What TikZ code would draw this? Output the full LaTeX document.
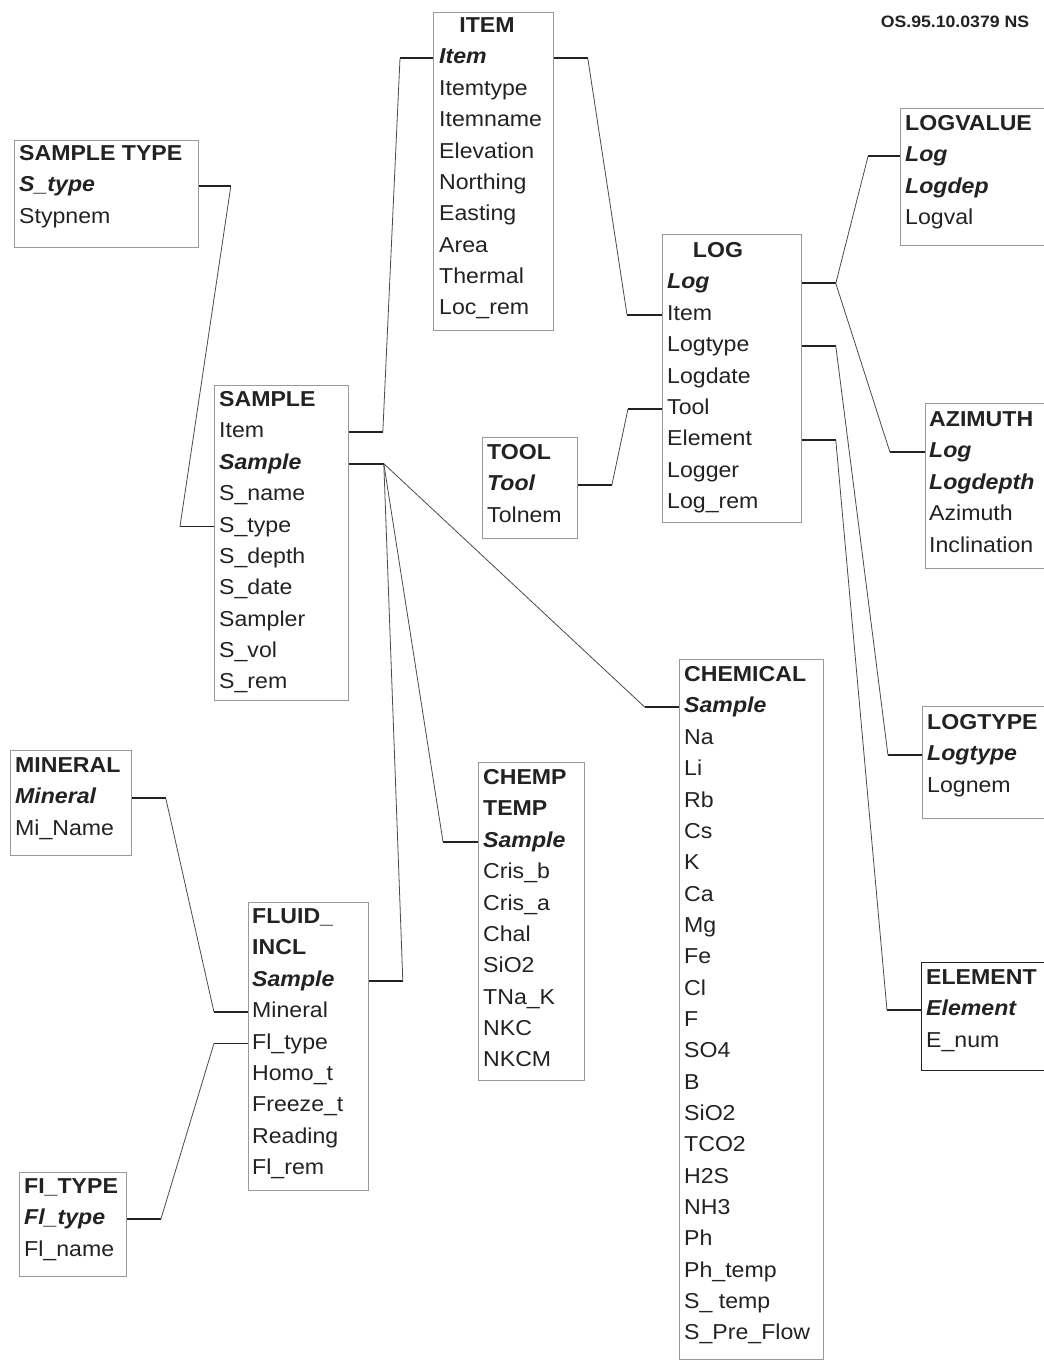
\documentclass[tikz,border=0pt]{standalone}
\usepackage{fontspec}
\setmainfont{Liberation Sans}[FakeStretch=1.07]
\definecolor{ink}{HTML}{222222}
\definecolor{boxgray}{HTML}{9A9A9A}
\definecolor{wiregray}{HTML}{4A4A4A}
\newcommand\fieldsize{\fontsize{21.6}{26}\selectfont}
\tikzset{
  tbl/.style={draw=boxgray, line width=0.8pt, anchor=north west, inner sep=0pt},
  fld/.style={anchor=west, inner sep=0pt, text=ink, text height=15.5pt, text depth=4.3pt, font=\fieldsize},
  hdr/.style={fld, font=\fieldsize\bfseries},
  pkey/.style={fld, font=\fieldsize\bfseries\itshape},
  stub/.style={draw=ink, line width=1.8pt},
  wire/.style={draw=wiregray, line width=0.8pt},
}
\begin{document}
\begin{tikzpicture}[x=1pt, y=-1pt]
  \clip (0,0) rectangle (1044,1361);
  % Reference number
  \node[font=\fontsize{16.5}{20}\selectfont\bfseries, text=ink] (docref) at (955,22) {OS.95.10.0379 NS};
  % SAMPLE TYPE
  \node[tbl, minimum width=184, minimum height=107] (stype) at (14,140) {};
  \foreach \s/\f [count=\i from 0] in {hdr/SAMPLE TYPE, pkey/S\_type, fld/Stypnem}
    \node[\s] (stype-\i) at (19,{155+31.35*\i}) {\f};
  % ITEM
  \node[tbl, minimum width=120, minimum height=318] (item) at (433,12) {};
  \node[hdr, anchor=center] (item-0) at (487,27) {ITEM};
  \foreach \s/\f [count=\i from 1] in {pkey/Item, fld/Itemtype, fld/Itemname, fld/Elevation, fld/Northing, fld/Easting, fld/Area, fld/Thermal, fld/Loc\_rem}
    \node[\s] (item-\i) at (439,{27+31.35*\i}) {\f};
  % SAMPLE
  \node[tbl, minimum width=134, minimum height=315] (sample) at (214,385) {};
  \foreach \s/\f [count=\i from 0] in {hdr/SAMPLE, fld/Item, pkey/Sample, fld/S\_name, fld/S\_type, fld/S\_depth, fld/S\_date, fld/Sampler, fld/S\_vol, fld/S\_rem}
    \node[\s] (sample-\i) at (219,{401+31.35*\i}) {\f};
  % LOG
  \node[tbl, minimum width=139, minimum height=288] (log) at (662,234) {};
  \node[hdr, anchor=center] (log-0) at (718,252) {LOG};
  \foreach \s/\f [count=\i from 1] in {pkey/Log, fld/Item, fld/Logtype, fld/Logdate, fld/Tool, fld/Element, fld/Logger, fld/Log\_rem}
    \node[\s] (log-\i) at (667,{252+31.35*\i}) {\f};
  % TOOL
  \node[tbl, minimum width=95, minimum height=101] (tool) at (482,437) {};
  \foreach \s/\f [count=\i from 0] in {hdr/TOOL, pkey/Tool, fld/Tolnem}
    \node[\s] (tool-\i) at (487,{454+31.35*\i}) {\f};
  % LOGVALUE
  \node[tbl, minimum width=160, minimum height=137] (logval) at (900,108) {};
  \foreach \s/\f [count=\i from 0] in {hdr/LOGVALUE, pkey/Log, pkey/Logdep, fld/Logval}
    \node[\s] (logval-\i) at (905,{125+31.35*\i}) {\f};
  % AZIMUTH
  \node[tbl, minimum width=140, minimum height=165] (azim) at (925,403) {};
  \foreach \s/\f [count=\i from 0] in {hdr/AZIMUTH, pkey/Log, pkey/Logdepth, fld/Azimuth, fld/Inclination}
    \node[\s] (azim-\i) at (929,{421+31.35*\i}) {\f};
  % LOGTYPE
  \node[tbl, minimum width=140, minimum height=112] (logtype) at (922,706) {};
  \foreach \s/\f [count=\i from 0] in {hdr/LOGTYPE, pkey/Logtype, fld/Lognem}
    \node[\s] (logtype-\i) at (927,{724+31.35*\i}) {\f};
  % ELEMENT
  \node[tbl, draw=ink, line width=1.4pt, minimum width=140, minimum height=108] (elem) at (921,962) {};
  \foreach \s/\f [count=\i from 0] in {hdr/ELEMENT, pkey/Element, fld/E\_num}
    \node[\s] (elem-\i) at (926,{979+31.35*\i}) {\f};
  % CHEMICAL
  \node[tbl, minimum width=144, minimum height=700] (chem) at (679,659) {};
  \foreach \s/\f [count=\i from 0] in {hdr/CHEMICAL, pkey/Sample, fld/Na, fld/Li, fld/Rb, fld/Cs, fld/K, fld/Ca, fld/Mg, fld/Fe, fld/Cl, fld/F, fld/SO4, fld/B, fld/SiO2, fld/TCO2, fld/H2S, fld/NH3, fld/Ph, fld/Ph\_temp, fld/S\_ temp, fld/S\_Pre\_Flow}
    \node[\s] (chem-\i) at (684,{676+31.35*\i}) {\f};
  % CHEMP TEMP
  \node[tbl, minimum width=106, minimum height=318] (chemp) at (478,762) {};
  \foreach \s/\f [count=\i from 0] in {hdr/CHEMP, hdr/TEMP, pkey/Sample, fld/Cris\_b, fld/Cris\_a, fld/Chal, fld/SiO2, fld/TNa\_K, fld/NKC, fld/NKCM}
    \node[\s] (chemp-\i) at (483,{779+31.35*\i}) {\f};
  % MINERAL
  \node[tbl, minimum width=121, minimum height=105] (mineral) at (10,750) {};
  \foreach \s/\f [count=\i from 0] in {hdr/MINERAL, pkey/Mineral, fld/Mi\_Name}
    \node[\s] (mineral-\i) at (15,{767+31.35*\i}) {\f};
  % FLUID_INCL
  \node[tbl, minimum width=120, minimum height=288] (fluid) at (248,902) {};
  \foreach \s/\f [count=\i from 0] in {hdr/FLUID\_, hdr/INCL, pkey/Sample, fld/Mineral, fld/Fl\_type, fld/Homo\_t, fld/Freeze\_t, fld/Reading, fld/Fl\_rem}
    \node[\s] (fluid-\i) at (252,{918+31.35*\i}) {\f};
  % FI_TYPE
  \node[tbl, minimum width=107, minimum height=104] (fltype) at (19,1172) {};
  \foreach \s/\f [count=\i from 0] in {hdr/FI\_TYPE, pkey/Fl\_type, fld/Fl\_name}
    \node[\s] (fltype-\i) at (24,{1188+31.35*\i}) {\f};

  % SAMPLE TYPE -> SAMPLE
  \draw[stub] (stype.east |- stype-1) -- ++(32,0) coordinate (stype-out);
  \draw[stub] (sample.west |- sample-4) -- ++(-34,0) coordinate (sample-stype-in);
  \draw[wire] (stype-out) -- (sample-stype-in);
  % SAMPLE -> ITEM
  \draw[stub] (sample.east |- sample-1) -- ++(34,0) coordinate (sample-item-out);
  \draw[stub] (item.west |- item-1) -- ++(-33,0) coordinate (item-in);
  \draw[wire] (sample-item-out) -- (item-in);
  % ITEM -> LOG
  \draw[stub] (item.east |- item-1) -- ++(34,0) coordinate (item-out);
  \draw[stub] (log.west |- log-2) -- ++(-35,0) coordinate (log-item-in);
  \draw[wire] (item-out) -- (log-item-in);
  % SAMPLE -> CHEMICAL, CHEMP TEMP, FLUID_INCL
  \draw[stub] (sample.east |- sample-2) -- ++(35,0) coordinate (sample-out);
  \draw[stub] (chem.west |- chem-1) -- ++(-34,0) coordinate (chem-in);
  \draw[stub] (chemp.west |- chemp-2) -- ++(-35,0) coordinate (chemp-in);
  \draw[stub] (fluid.east |- fluid-2) -- ++(34,0) coordinate (fluid-in);
  \draw[wire] (sample-out) -- (chem-in);
  \draw[wire] (sample-out) -- (chemp-in);
  \draw[wire] (sample-out) -- (fluid-in);
  % MINERAL -> FLUID_INCL
  \draw[stub] (mineral.east |- mineral-1) -- ++(34,0) coordinate (mineral-out);
  \draw[stub] (fluid.west |- fluid-3) -- ++(-34,0) coordinate (fluid-min-in);
  \draw[wire] (mineral-out) -- (fluid-min-in);
  % FI_TYPE -> FLUID_INCL
  \draw[stub] (fltype.east |- fltype-1) -- ++(34,0) coordinate (fltype-out);
  \draw[stub] (fluid.west |- fluid-4) -- ++(-34,0) coordinate (fluid-fl-in);
  \draw[wire] (fltype-out) -- (fluid-fl-in);
  % TOOL -> LOG
  \draw[stub] (tool.east |- tool-1) -- ++(34,0) coordinate (tool-out);
  \draw[stub] (log.west |- log-5) -- ++(-34,0) coordinate (log-tool-in);
  \draw[wire] (tool-out) -- (log-tool-in);
  % LOG -> LOGVALUE, AZIMUTH
  \draw[stub] (log.east |- log-1) -- ++(34,0) coordinate (log-out);
  \draw[stub] (logval.west |- logval-1) -- ++(-32,0) coordinate (logval-in);
  \draw[stub] (azim.west |- azim-1) -- ++(-35,0) coordinate (azim-in);
  \draw[wire] (log-out) -- (logval-in);
  \draw[wire] (log-out) -- (azim-in);
  % LOG -> LOGTYPE
  \draw[stub] (log.east |- log-3) -- ++(34,0) coordinate (log-type-out);
  \draw[stub] (logtype.west |- logtype-1) -- ++(-34,0) coordinate (logtype-in);
  \draw[wire] (log-type-out) -- (logtype-in);
  % LOG -> ELEMENT
  \draw[stub] (log.east |- log-6) -- ++(34,0) coordinate (log-elem-out);
  \draw[stub] (elem.west |- elem-1) -- ++(-34,0) coordinate (elem-in);
  \draw[wire] (log-elem-out) -- (elem-in);
\end{tikzpicture}
\end{document}
